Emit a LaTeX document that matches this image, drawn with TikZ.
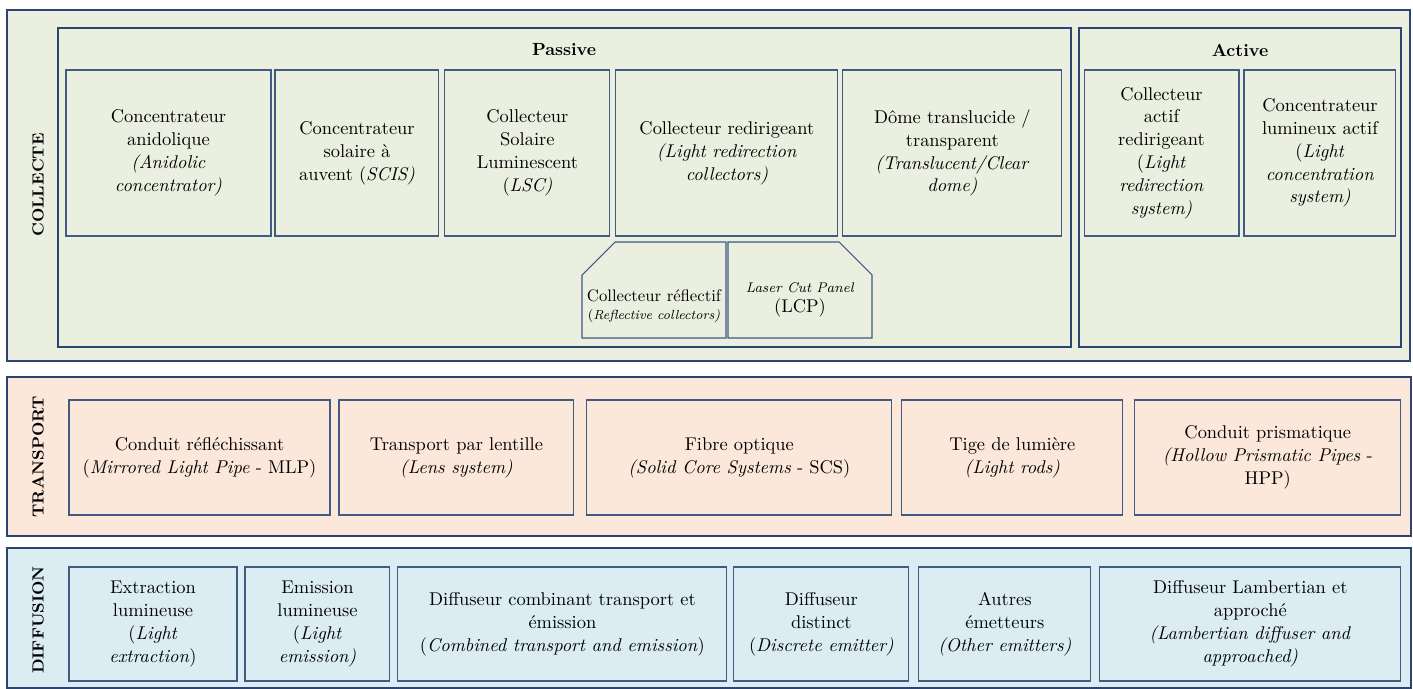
\documentclass[tikz,border=0pt]{standalone}
\usepackage{xcolor}
\usepackage{tikz}
\usetikzlibrary{positioning}
\definecolor{framenavy}{HTML}{2B4570}
\definecolor{boxnavy}{HTML}{3F5B82}
\definecolor{collectgreen}{HTML}{EAEFDF}
\definecolor{transportpeach}{HTML}{FCE8DA}
\definecolor{diffusionblue}{HTML}{DBEDF3}

\begin{document}
\begin{tikzpicture}[x=0.02cm, y=-0.02cm,
        every node/.style={
            align=center,
            inner sep=0pt,
            outer sep=0pt,
            font=\fontsize{10.5}{13}\selectfont},
        frame/.style={draw=framenavy, line width=1.1pt},
        subframe/.style={draw=framenavy, line width=0.8pt},
        box/.style={draw=boxnavy, line width=0.6pt},
        collectbox/.style={box, minimum height=3.32cm},
        transportbox/.style={box, minimum height=2.3cm},
        diffusionbox/.style={box, minimum height=2.28cm},
        section/.style={rotate=90, font=\fontsize{9.2}{11}\selectfont\bfseries},
        group/.style={font=\fontsize{10}{12}\selectfont\bfseries}]

        \useasboundingbox (0,0) rectangle (1413,689);

        \draw[frame, fill=collectgreen] (7,10) rectangle (1410,361);
        \draw[frame, fill=transportpeach] (7,377) rectangle (1411,536);
        \draw[frame, fill=diffusionblue] (7,548) rectangle (1411,688);
        \draw[subframe] (58,28) rectangle (1071,347);
        \draw[subframe] (1079,28) rectangle (1401,347);

        \node[section](collecte) at (38,185) {COLLECTE};
        \node[section](transport) at (38,457) {TRANSPORT};
        \node[section](diffusion) at (38,620) {DIFFUSION};
        \node[group](passive) at (564,50) {Passive};
        \node[group](active) at (1240,50) {Active};

        \node[collectbox, minimum width=4.1cm](anidol) at (168.5,153) {Concentrateur\\anidolique\\\textit{(Anidolic}\\\textit{concentrator)}};
        \node[collectbox, minimum width=3.28cm, right=0.08cm of anidol](scis) {Concentrateur\\solaire à\\auvent (\textit{SCIS)}};
        \node[collectbox, minimum width=3.3cm, right=0.12cm of scis](lsc) {Collecteur\\Solaire\\Luminescent\\(\textit{LSC)}};
        \node[collectbox, minimum width=4.44cm, right=0.12cm of lsc](redirect) {Collecteur redirigeant\\\textit{(Light redirection}\\\textit{collectors)}};
        \node[collectbox, minimum width=4.38cm, right=0.1cm of redirect](dome) {Dôme translucide /\\transparent\\\textit{(Translucent/Clear}\\\textit{dome)}};
        \node[collectbox, minimum width=3.1cm](activeredirect) at (1161.5,153) {Collecteur\\actif\\redirigeant\\(\textit{Light}\\\textit{redirection}\\\textit{system)}};
        \node[collectbox, minimum width=3.04cm, right=0.1cm of activeredirect](activeconc) {Concentrateur\\lumineux actif\\(\textit{Light}\\\textit{concentration}\\\textit{system)}};

        \draw[box] (582,338) -- (582,275) -- (615,242) -- (726,242) -- (726,338) -- cycle;
        \draw[box] (728,338) -- (728,242) -- (839,242) -- (872,275) -- (872,338) -- cycle;
        \node[font=\fontsize{9.5}{10}\selectfont](reflect) at (654,306) {Collecteur réflectif\\{\fontsize{7.5}{9}\selectfont(\textit{Reflective collectors)}}};
        \node[font=\fontsize{10.5}{11}\selectfont](lcp) at (800,300) {{\fontsize{8}{9}\selectfont\textit{Laser Cut Panel}}\\(LCP)};

        \node[transportbox, minimum width=5.22cm](mlp) at (199.5,457.5) {Conduit réfléchissant\\(\textit{Mirrored Light Pipe} - MLP)};
        \node[transportbox, minimum width=4.7cm, right=0.18cm of mlp](lens) {Transport par lentille\\\textit{(Lens system)}};
        \node[transportbox, minimum width=6.1cm, right=0.26cm of lens](fibre) {Fibre optique\\\textit{(Solid Core Systems} - SCS)};
        \node[transportbox, minimum width=4.42cm, right=0.2cm of fibre](rods) {Tige de lumière\\\textit{(Light rods)}};
        \node[transportbox, minimum width=5.32cm, right=0.24cm of rods](prism) {Conduit prismatique\\\textit{(Hollow Prismatic Pipes} -\\HPP)};

        \node[diffusionbox, minimum width=3.36cm](extract) at (153,624) {Extraction\\lumineuse\\(\textit{Light}\\\textit{extraction})};
        \node[diffusionbox, minimum width=2.9cm, right=0.16cm of extract](emission) {Emission\\lumineuse\\(\textit{Light}\\\textit{emission)}};
        \node[diffusionbox, minimum width=6.58cm, right=0.16cm of emission](combined) {Diffuseur combinant transport et\\émission\\(\textit{Combined transport and emission})};
        \node[diffusionbox, minimum width=3.5cm, right=0.14cm of combined](discrete) {Diffuseur\\distinct\\(\textit{Discrete emitter)}};
        \node[diffusionbox, minimum width=3.44cm, right=0.2cm of discrete](others) {Autres\\émetteurs\\\textit{(Other emitters)}};
        \node[diffusionbox, minimum width=6.02cm, right=0.18cm of others](lambert) {Diffuseur Lambertian et\\approché\\\textit{(Lambertian diffuser and}\\\textit{approached)}};
    \end{tikzpicture}
\end{document}
